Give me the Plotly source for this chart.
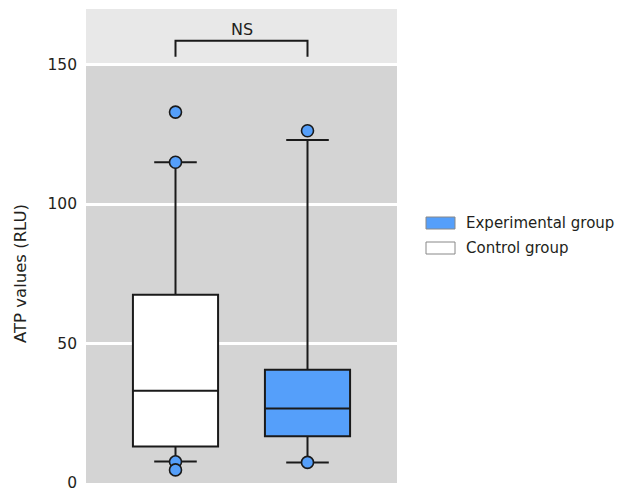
import plotly.graph_objects as go

# ---- data ----
groups = ["Control group", "Experimental group"]
group_x = [0, 1]
q1 = [13.0, 16.7]
median = [33.0, 26.6]
q3 = [67.5, 40.5]
lower_fence = [7.6, 7.3]
upper_fence = [115.0, 123.0]
outliers = [[133.0, 115.0, 7.5, 4.6], [126.3, 7.3]]
box_fill = ["#ffffff", "#559ffa"]
y_ticks = [0, 50, 100, 150]
sig_label = "NS"
y_title = "ATP values (RLU)"

FONT = "DejaVu Sans"
TXT = "#231f20"
LINE = "#1a1a1a"
BLUE = "#559ffa"

fig = go.Figure()
for i in range(2):
    fig.add_trace(go.Box(
        x=[group_x[i]], q1=[q1[i]], median=[median[i]], q3=[q3[i]],
        lowerfence=[lower_fence[i]], upperfence=[upper_fence[i]],
        name=groups[i], fillcolor=box_fill[i],
        line=dict(color=LINE, width=2), width=0.645, whiskerwidth=0.5,
        boxpoints=False, showlegend=False, hoverinfo="skip"))
    fig.add_trace(go.Scatter(
        x=[group_x[i]] * len(outliers[i]), y=outliers[i], mode="markers",
        marker=dict(size=12, color=BLUE, line=dict(color=LINE, width=1.6)),
        showlegend=False, hoverinfo="skip"))

PW, PH = 311, 474  # plot area size in px
L0, T0 = 86, 9     # plot area origin in the target picture

def px(x):
    return (x - L0) / PW

def py(y):
    return (T0 + PH - y) / PH

shapes = [
    dict(type="rect", xref="paper", yref="y", x0=0, x1=1, y0=150, y1=170,
         fillcolor="#e8e8e8", line=dict(width=0), layer="below"),
    dict(type="path", xref="x", yref="y",
         path="M 0 152.9 L 0 158.6 L 1 158.6 L 1 152.9",
         line=dict(color=LINE, width=2)),
    dict(type="rect", xref="paper", yref="paper",
         x0=px(426), x1=px(455), y0=py(229), y1=py(217),
         fillcolor=BLUE, line=dict(color="#888888", width=1)),
    dict(type="rect", xref="paper", yref="paper",
         x0=px(426), x1=px(455), y0=py(254), y1=py(242),
         fillcolor="#ffffff", line=dict(color="#888888", width=1)),
]

annotations = [
    dict(text=sig_label, x=0.5, xref="x", y=py(18), yref="paper",
         showarrow=False, font=dict(family=FONT, size=16, color=TXT)),
    dict(text=groups[1], x=px(464), xref="paper", xanchor="left",
         y=py(223), yref="paper", yanchor="middle", showarrow=False,
         font=dict(family=FONT, size=15, color=TXT)),
    dict(text=groups[0], x=px(464), xref="paper", xanchor="left",
         y=py(248), yref="paper", yanchor="middle", showarrow=False,
         font=dict(family=FONT, size=15, color=TXT)),
    dict(text=y_title, textangle=-90, x=px(20), xref="paper", xanchor="center",
         y=py(274), yref="paper", yanchor="middle", showarrow=False,
         font=dict(family=FONT, size=16.5, color=TXT)),
]

# page body has an 8px margin: shift the figure so the picture lines up
W, H = 618, 484
ml, mt = L0 - 8, T0 - 8
fig.update_layout(
    width=W, height=H,
    margin=dict(l=ml, r=W - ml - PW, t=mt, b=H - mt - PH),
    paper_bgcolor="#ffffff", plot_bgcolor="#d4d4d4",
    shapes=shapes, annotations=annotations,
    showlegend=False,
    xaxis=dict(range=[-0.678, 1.678], showticklabels=False, showgrid=False,
               zeroline=False, showline=False, fixedrange=True),
    yaxis=dict(range=[-0.1, 170], tickvals=y_ticks, ticktext=[str(v) for v in y_ticks],
               showgrid=True, gridcolor="#ffffff", gridwidth=3, zeroline=False,
               showline=False, ticks="", ticklabelstandoff=8,
               ticklabeloverflow="allow",
               tickfont=dict(family=FONT, size=15.5, color=TXT)),
)

fig.write_html("out.html")
